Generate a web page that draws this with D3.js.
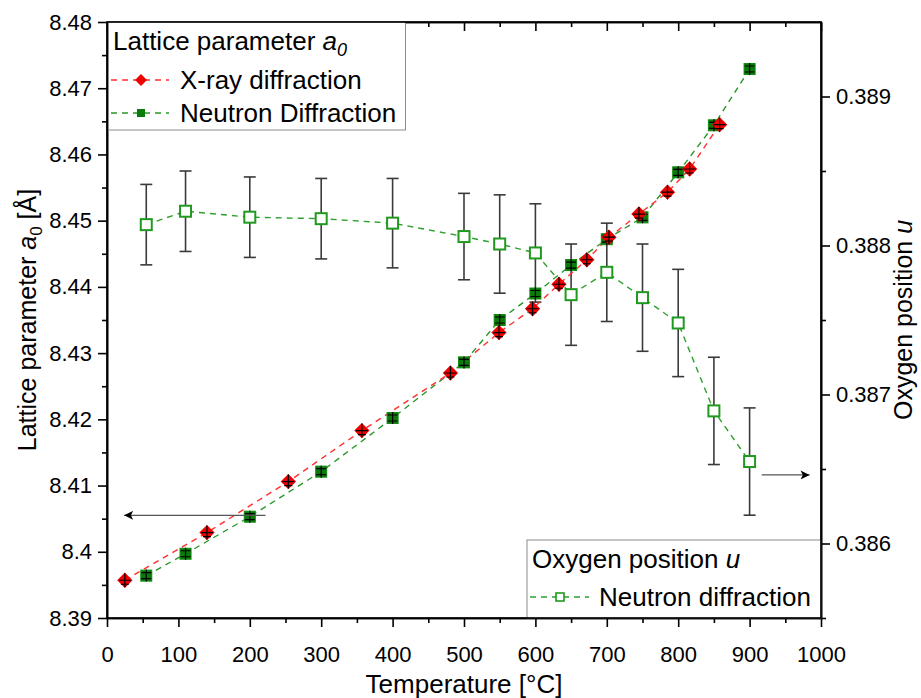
<!DOCTYPE html>
<html>
<head>
<meta charset="utf-8">
<script src="https://cdn.jsdelivr.net/npm/d3@7/dist/d3.min.js"></script>
<style>
  body { margin: 0; background: #fff; }
  text { font-family: "Liberation Sans", Arial, sans-serif; fill: #000; }
</style>
</head>
<body>
<svg id="chart"></svg>
<script>
// X-ray diffraction, lattice parameter a0 (left axis)
const xrayTemp = [25, 140, 254, 357, 481, 549, 596, 633, 672, 703, 745, 785, 816, 858];
const xrayA = [8.3957, 8.4029, 8.4106, 8.4183, 8.4270, 8.4331, 8.4367, 8.4404, 8.4441, 8.4475, 8.4510, 8.4543, 8.4578, 8.4645];

// Neutron diffraction, lattice parameter a0 (left axis)
const neutronTemp = [55, 110, 200, 300, 400, 500, 550, 600, 650, 700, 750, 800, 850, 900];
const neutronA = [8.3964, 8.3997, 8.4053, 8.4121, 8.4202, 8.4286, 8.4350, 8.4390, 8.4433, 8.4472, 8.4505, 8.4573, 8.4644, 8.4729];

// Neutron diffraction, oxygen position u (right axis) with error
const oxygenU = [0.38814, 0.38823, 0.38819, 0.38818, 0.38815, 0.38806, 0.38801, 0.38795, 0.38767, 0.38782, 0.38765, 0.38748, 0.38689, 0.38655];
const oxygenErr = [0.00027, 0.00027, 0.00027, 0.00027, 0.00030, 0.00029, 0.00033, 0.00033, 0.00034, 0.00033, 0.00036, 0.00036, 0.00036, 0.00036];

// arrows pointing to the axis each series belongs to
const leftArrow = {from: 222, to: 24, a: 8.4055};
const rightArrow = {from: 917, to: 984, u: 0.38646};

const xTicks = d3.range(0, 1001, 100);
const xMinor = d3.range(50, 1000, 100);
const leftTicks = [8.39, 8.40, 8.41, 8.42, 8.43, 8.44, 8.45, 8.46, 8.47, 8.48];
const leftMinor = [8.395, 8.405, 8.415, 8.425, 8.435, 8.445, 8.455, 8.465, 8.475];
const rightTicks = [0.386, 0.387, 0.388, 0.389];
const rightMinor = [0.3855, 0.3865, 0.3875, 0.3885];

const W = 921, H = 698;
const margin = {top: 22, right: 100, bottom: 80, left: 107};
const plotW = W - margin.left - margin.right;
const plotH = H - margin.top - margin.bottom;

const svg = d3.select('#chart').attr('width', W).attr('height', H);

const x = d3.scaleLinear().domain([0, 1000]).range([0, plotW]);
const yL = d3.scaleLinear().domain([8.39, 8.48]).range([plotH, 0]);
const yR = d3.scaleLinear().domain([0.3855, 0.3895]).range([plotH, 0]);

const defs = svg.append('defs');
defs.append('marker')
    .attr('id', 'head')
    .attr('viewBox', '0 0 10 10')
    .attr('refX', 10).attr('refY', 5)
    .attr('markerWidth', 15).attr('markerHeight', 9)
    .attr('markerUnits', 'userSpaceOnUse')
    .attr('orient', 'auto')
  .append('path')
    .attr('d', 'M0,0L10,5L0,10L2.5,5Z')
    .attr('fill', '#000');

const chart = svg.append('g')
    .attr('transform', `translate(${margin.left},${margin.top})`);

// Axes
function styleAxis(g) {
  g.selectAll('path.domain').attr('stroke', '#000').attr('stroke-width', 1.6);
  g.selectAll('.tick line').attr('stroke', '#000').attr('stroke-width', 1.6);
  g.selectAll('.tick text').style('font-size', '22px').attr('fill', '#000');
}

chart.append('g')
    .attr('transform', `translate(0,${plotH})`)
    .call(d3.axisBottom(x).tickValues(xMinor).tickSize(5).tickFormat('').tickSizeOuter(0))
    .call(styleAxis);
chart.append('g')
    .attr('transform', `translate(0,${plotH})`)
    .call(d3.axisBottom(x).tickValues(xTicks).tickSize(9).tickPadding(19)
      .tickFormat(d3.format('d')).tickSizeOuter(0))
    .call(styleAxis);

chart.append('g')
    .call(d3.axisTop(x).tickValues(xMinor).tickSize(-5).tickFormat('').tickSizeOuter(0))
    .call(styleAxis);
chart.append('g')
    .call(d3.axisTop(x).tickValues(xTicks).tickSize(-9).tickFormat('').tickSizeOuter(0))
    .call(styleAxis);

chart.append('g')
    .call(d3.axisLeft(yL).tickValues(leftMinor).tickSize(5).tickFormat('').tickSizeOuter(0))
    .call(styleAxis);
chart.append('g')
    .call(d3.axisLeft(yL).tickValues(leftTicks).tickSize(9).tickPadding(6)
      .tickFormat(d => String(+d.toFixed(2))).tickSizeOuter(0))
    .call(styleAxis);

chart.append('g')
    .attr('transform', `translate(${plotW},0)`)
    .call(d3.axisRight(yR).tickValues(rightMinor).tickSize(5).tickFormat('').tickSizeOuter(0))
    .call(styleAxis);
chart.append('g')
    .attr('transform', `translate(${plotW},0)`)
    .call(d3.axisRight(yR).tickValues(rightTicks).tickSize(9).tickPadding(6)
      .tickFormat(d3.format('.3f')).tickSizeOuter(0))
    .call(styleAxis);

// Axis titles
svg.append('text')
    .attr('x', margin.left + plotW / 2)
    .attr('y', 693)
    .attr('text-anchor', 'middle')
    .style('font-size', '26px')
    .text('Temperature [°C]');

const yLabel = svg.append('text')
    .attr('transform', `translate(36,${margin.top + plotH / 2}) rotate(-90)`)
    .attr('text-anchor', 'middle')
    .style('font-size', '25px');
yLabel.append('tspan').text('Lattice parameter ');
yLabel.append('tspan').style('font-style', 'italic').text('a');
yLabel.append('tspan').attr('dy', 6).style('font-size', '17px').text('0');
yLabel.append('tspan').attr('dy', -6).text(' [Å]');

const uLabel = svg.append('text')
    .attr('transform', `translate(912,${margin.top + plotH / 2}) rotate(-90)`)
    .attr('text-anchor', 'middle')
    .style('font-size', '25px');
uLabel.append('tspan').text('Oxygen position ');
uLabel.append('tspan').style('font-style', 'italic').text('u');

// Oxygen position series (right axis)
const uData = neutronTemp.map((t, i) => ({t, u: oxygenU[i], e: oxygenErr[i]}));
const green = '#1f9a1f';

chart.append('path')
    .datum(uData)
    .attr('fill', 'none')
    .attr('stroke', '#2ea02e')
    .attr('stroke-width', 1.4)
    .attr('stroke-dasharray', '6,5')
    .attr('d', d3.line().x(d => x(d.t)).y(d => yR(d.u)));

const bars = chart.append('g').attr('stroke', '#3a3a3a').attr('stroke-width', 1.6);
uData.forEach(d => {
  const cx = x(d.t), y0 = yR(d.u - d.e), y1 = yR(d.u + d.e);
  bars.append('line').attr('x1', cx).attr('x2', cx).attr('y1', y0).attr('y2', y1);
  bars.append('line').attr('x1', cx - 6).attr('x2', cx + 6).attr('y1', y0).attr('y2', y0);
  bars.append('line').attr('x1', cx - 6).attr('x2', cx + 6).attr('y1', y1).attr('y2', y1);
});

chart.append('g').selectAll('rect')
    .data(uData)
  .join('rect')
    .attr('x', d => x(d.t) - 5.5)
    .attr('y', d => yR(d.u) - 5.5)
    .attr('width', 11).attr('height', 11)
    .attr('fill', '#fff')
    .attr('stroke', green)
    .attr('stroke-width', 2);

// Lattice parameter series (left axis)
const xrayData = xrayTemp.map((t, i) => ({t, a: xrayA[i]}));
const neutronData = neutronTemp.map((t, i) => ({t, a: neutronA[i]}));
const lineA = d3.line().x(d => x(d.t)).y(d => yL(d.a));

chart.append('path')
    .datum(neutronData)
    .attr('fill', 'none')
    .attr('stroke', '#2a962a')
    .attr('stroke-width', 1.4)
    .attr('stroke-dasharray', '6,5')
    .attr('d', lineA);

chart.append('path')
    .datum(xrayData)
    .attr('fill', 'none')
    .attr('stroke', '#ff3030')
    .attr('stroke-width', 1.4)
    .attr('stroke-dasharray', '6,5')
    .attr('d', lineA);

const diamond = d3.symbol().type(d3.symbolDiamond2).size(150);

const nPts = chart.append('g').selectAll('g')
    .data(neutronData)
  .join('g')
    .attr('transform', d => `translate(${x(d.t)},${yL(d.a)})`);
nPts.append('rect')
    .attr('x', -5.5).attr('y', -5.5).attr('width', 11).attr('height', 11)
    .attr('fill', '#0a7a0a').attr('stroke', '#138a13').attr('stroke-width', 1);
nPts.append('path')
    .attr('d', 'M0,-6V6M-5,-3H5M-5,3H5')
    .attr('stroke', '#000').attr('stroke-width', 1.2);

const xPts = chart.append('g').selectAll('g')
    .data(xrayData)
  .join('g')
    .attr('transform', d => `translate(${x(d.t)},${yL(d.a)})`);
xPts.append('path')
    .attr('d', diamond)
    .attr('fill', '#f00000');
xPts.append('path')
    .attr('d', 'M0,-7V7M-6,0H6M-4,4H4')
    .attr('stroke', '#000').attr('stroke-width', 1.2);

// Arrows
chart.append('line')
    .attr('x1', x(leftArrow.from)).attr('x2', x(leftArrow.to))
    .attr('y1', yL(leftArrow.a)).attr('y2', yL(leftArrow.a))
    .attr('stroke', '#555').attr('stroke-width', 1.3)
    .attr('marker-end', 'url(#head)');
chart.append('line')
    .attr('x1', x(rightArrow.from)).attr('x2', x(rightArrow.to))
    .attr('y1', yR(rightArrow.u)).attr('y2', yR(rightArrow.u))
    .attr('stroke', '#555').attr('stroke-width', 1.3)
    .attr('marker-end', 'url(#head)');

// Legend: lattice parameter
const lg1 = chart.append('g');
lg1.append('rect')
    .attr('x', 1.5).attr('y', 0)
    .attr('width', 297).attr('height', 108)
    .attr('fill', '#fff').attr('stroke', '#8c8c8c').attr('stroke-width', 1);
const t1 = lg1.append('text').attr('x', 6).attr('y', 28).style('font-size', '26px');
t1.append('tspan').text('Lattice parameter ');
t1.append('tspan').style('font-style', 'italic').text('a');
t1.append('tspan').attr('dy', 6).style('font-size', '18px').style('font-style', 'italic').text('0');

const lgItems = [
  {label: 'X-ray diffraction', color: '#ff3030', y: 58, kind: 'diamond'},
  {label: 'Neutron Diffraction', color: '#2a962a', y: 91, kind: 'square'}
];
lgItems.forEach(it => {
  lg1.append('line')
      .attr('x1', 4).attr('x2', 62).attr('y1', it.y).attr('y2', it.y)
      .attr('stroke', it.color).attr('stroke-width', 1.4).attr('stroke-dasharray', '6,5');
  if (it.kind === 'diamond') {
    lg1.append('path')
        .attr('transform', `translate(34,${it.y})`)
        .attr('d', d3.symbol().type(d3.symbolDiamond2).size(90))
        .attr('fill', '#f00000');
  } else {
    lg1.append('rect')
        .attr('x', 30).attr('y', it.y - 4).attr('width', 8).attr('height', 8)
        .attr('fill', '#0a7a0a');
  }
  lg1.append('text')
      .attr('x', 73).attr('y', it.y + 9)
      .style('font-size', '26px')
      .text(it.label);
});

// Legend: oxygen position
const lg2 = chart.append('g').attr('transform', `translate(420,518)`);
lg2.append('rect')
    .attr('x', 0).attr('y', 0)
    .attr('width', plotW - 420).attr('height', plotH - 518)
    .attr('fill', '#fff').attr('stroke', '#8c8c8c').attr('stroke-width', 1);
const t2 = lg2.append('text').attr('x', 5).attr('y', 28).style('font-size', '26px');
t2.append('tspan').text('Oxygen position ');
t2.append('tspan').style('font-style', 'italic').text('u');
lg2.append('line')
    .attr('x1', 3).attr('x2', 62).attr('y1', 57).attr('y2', 57)
    .attr('stroke', '#2ea02e').attr('stroke-width', 1.4).attr('stroke-dasharray', '6,5');
lg2.append('rect')
    .attr('x', 29).attr('y', 53).attr('width', 8).attr('height', 8)
    .attr('fill', '#fff').attr('stroke', green).attr('stroke-width', 1.6);
lg2.append('text')
    .attr('x', 72).attr('y', 66)
    .style('font-size', '26px')
    .text('Neutron diffraction');

// redraw frame on top of legends
chart.append('rect')
    .attr('x', 0).attr('y', 0).attr('width', plotW).attr('height', plotH)
    .attr('fill', 'none').attr('stroke', '#000').attr('stroke-width', 1.6);
</script>
</body>
</html>
